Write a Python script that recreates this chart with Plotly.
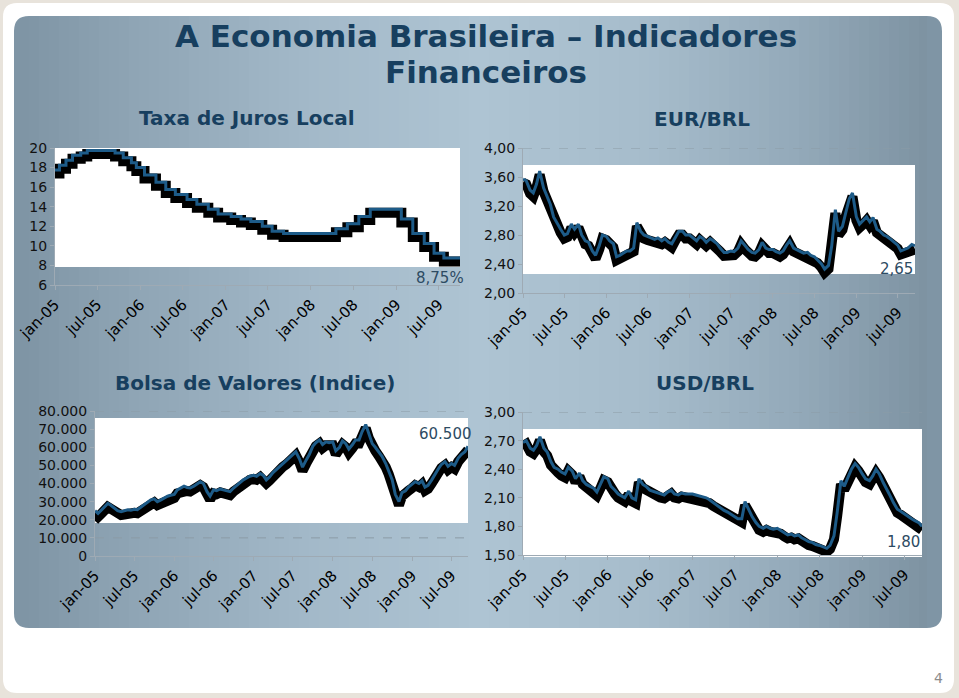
import plotly.graph_objects as go
import pandas as pd

# ---------------- data ----------------
tick_dates = ['2005-01-01', '2005-07-01', '2006-01-01', '2006-07-01', '2007-01-01',
              '2007-07-01', '2008-01-01', '2008-07-01', '2009-01-01', '2009-07-01']
tick_text = ['jan-05', 'jul-05', 'jan-06', 'jul-06', 'jan-07',
             'jul-07', 'jan-08', 'jul-08', 'jan-09', 'jul-09']

# Selic target (step series)
selic_dates = ['2005-01-01', '2005-01-20', '2005-02-17', '2005-03-17', '2005-04-21', '2005-05-19',
               '2005-09-15', '2005-10-20', '2005-11-24', '2005-12-15', '2006-01-19', '2006-03-09',
               '2006-04-20', '2006-05-31', '2006-07-20', '2006-08-31', '2006-10-19', '2006-11-30',
               '2007-01-25', '2007-03-08', '2007-04-19', '2007-06-07', '2007-07-19', '2007-09-06',
               '2008-04-17', '2008-06-05', '2008-07-24', '2008-09-11', '2009-01-22', '2009-03-12',
               '2009-04-30', '2009-06-11', '2009-07-23', '2009-09-30']
selic_values = [17.75, 18.25, 18.75, 19.25, 19.50, 19.75,
                19.50, 19.00, 18.50, 18.00, 17.25, 16.50,
                15.75, 15.25, 14.75, 14.25, 13.75, 13.25,
                13.00, 12.75, 12.50, 12.00, 11.50, 11.25,
                11.75, 12.25, 13.00, 13.75, 12.75, 11.25,
                10.25, 9.25, 8.75, 8.75]

# semi-monthly observations (1st and 15th) Jan-2005 .. Sep-2009
obs_dates = pd.date_range('2005-01-01', '2009-09-15', freq='SMS')

eur_brl = [3.57, 3.55, 3.42, 3.38, 3.50, 3.68, 3.45, 3.35, 3.22, 3.05, 2.95, 2.88,
           2.80, 2.82, 2.95, 2.88, 2.95, 2.80, 2.72, 2.70, 2.58, 2.52, 2.65, 2.80,
           2.78, 2.72, 2.68, 2.50, 2.52, 2.55, 2.58, 2.58, 2.62, 2.97, 2.85, 2.80,
           2.78, 2.77, 2.74, 2.76, 2.72, 2.75, 2.70, 2.68, 2.78, 2.85, 2.85, 2.80,
           2.80, 2.76, 2.72, 2.78, 2.75, 2.70, 2.75, 2.72, 2.68, 2.62, 2.56, 2.56,
           2.58, 2.57, 2.62, 2.72, 2.65, 2.60, 2.56, 2.55, 2.60, 2.70, 2.62, 2.60,
           2.60, 2.57, 2.55, 2.58, 2.66, 2.72, 2.62, 2.60, 2.57, 2.55, 2.56, 2.52,
           2.50, 2.46, 2.40, 2.33, 2.38, 2.65, 3.15, 2.85, 2.92, 3.10, 3.30, 3.38,
           3.05, 2.95, 3.00, 3.05, 2.98, 3.04, 2.88, 2.85, 2.80, 2.78, 2.74, 2.70,
           2.66, 2.58, 2.60, 2.62, 2.67, 2.65]

usd_brl = [2.68, 2.70, 2.62, 2.60, 2.65, 2.74, 2.62, 2.58, 2.48, 2.42, 2.40, 2.37,
           2.35, 2.42, 2.38, 2.30, 2.36, 2.28, 2.24, 2.22, 2.20, 2.16, 2.24, 2.32,
           2.30, 2.22, 2.18, 2.14, 2.12, 2.10, 2.17, 2.10, 2.08, 2.30, 2.24, 2.22,
           2.18, 2.17, 2.15, 2.14, 2.13, 2.16, 2.18, 2.14, 2.13, 2.15, 2.14, 2.14,
           2.14, 2.13, 2.12, 2.11, 2.10, 2.08, 2.05, 2.03, 2.00, 1.97, 1.95, 1.93,
           1.90, 1.88, 1.88, 2.06, 1.97, 1.90, 1.84, 1.80, 1.78, 1.80, 1.78, 1.77,
           1.78, 1.76, 1.73, 1.71, 1.72, 1.70, 1.71, 1.68, 1.66, 1.64, 1.63, 1.61,
           1.60, 1.59, 1.57, 1.60, 1.70, 1.95, 2.28, 2.22, 2.32, 2.40, 2.46, 2.42,
           2.35, 2.30, 2.28, 2.33, 2.40, 2.35, 2.26, 2.20, 2.12, 2.05, 1.98, 1.96,
           1.93, 1.91, 1.88, 1.86, 1.84, 1.80]

bovespa = [25000, 23500, 25500, 27500, 29000, 28000, 26500, 25000, 24500, 24800, 25500, 25200,
           25800, 25500, 27000, 28500, 29500, 31000, 31500, 30000, 31000, 32000, 33000, 33500,
           34000, 36500, 37500, 38500, 37800, 37500, 38500, 39500, 41000, 40000, 35500, 33000,
           36500, 36000, 37000, 36500, 36000, 35500, 37500, 39000, 40500, 42000, 43000, 44000,
           44500, 44000, 45500, 44500, 42000, 43500, 46000, 47500, 49500, 51000, 52500, 54000,
           55500, 57500, 53500, 49000, 53000, 56000, 60500, 62500, 64000, 61500, 63000, 62500,
           63000, 58000, 60000, 63500, 62000, 59000, 61500, 64000, 64000, 68500, 72500, 67000,
           62000, 60000, 57000, 55000, 51000, 47000, 42000, 34000, 30000, 35000, 36000, 38000,
           39500, 41000, 40000, 41500, 38000, 39000, 42000, 45000, 48000, 50500, 52000, 49500,
           51000, 50000, 54000, 56000, 57500, 60500]

obs_str = [d.strftime('%Y-%m-%d') for d in obs_dates]

# ---------------- styling ----------------
W, H = 959, 698
FONT = 'DejaVu Sans'
TITLE_COL = '#173f5f'
LABEL_COL = '#2d4b63'
BLUE = '#1d5b88'


def px(x):
    return x / W


def py(y):
    return 1 - y / H


def rr_path(x0, y0, x1, y1, r):
    return (f"M {px(x0 + r)},{py(y0)} L {px(x1 - r)},{py(y0)} "
            f"Q {px(x1)},{py(y0)} {px(x1)},{py(y0 + r)} L {px(x1)},{py(y1 - r)} "
            f"Q {px(x1)},{py(y1)} {px(x1 - r)},{py(y1)} L {px(x0 + r)},{py(y1)} "
            f"Q {px(x0)},{py(y1)} {px(x0)},{py(y1 - r)} L {px(x0)},{py(y0 + r)} "
            f"Q {px(x0)},{py(y0)} {px(x0 + r)},{py(y0)} Z")


def fmt_br(v, dec):
    s = f"{v:,.{dec}f}"
    return s.replace(',', 'X').replace('.', ',').replace('X', '.')


charts = [
    dict(title='Taxa de Juros Local', x=selic_dates, y=selic_values, shape='hv',
         box=(55, 460, 148, 285), yr=[6, 20], dtick=2, tfmt='d', xend='2009-09-30',
         white=(148, 267), title_xy=(247, 118),
         label=fmt_br(selic_values[-1], 2) + '%', label_xy=(466, 278)),
    dict(title='EUR/BRL', x=obs_str, y=eur_brl, shape='linear',
         box=(523, 915, 148, 293), yr=[2, 4], dtick=0.4, tfmt='.2f', xend=obs_str[-1],
         white=(165, 274), title_xy=(702, 119),
         label=fmt_br(eur_brl[-1], 2), label_xy=(915, 269)),
    dict(title='Bolsa de Valores (Indice)', x=obs_str, y=bovespa, shape='linear',
         box=(95, 468, 411, 556), yr=[0, 80000], dtick=10000, tfmt=',.0f', xend=obs_str[-1],
         white=(418, 523), title_xy=(255, 383),
         label=fmt_br(bovespa[-1], 0), label_xy=(474, 434)),
    dict(title='USD/BRL', x=obs_str, y=usd_brl, shape='linear',
         box=(523, 922, 412, 555), yr=[1.5, 3.0], dtick=0.3, tfmt='.2f', xend=obs_str[-1],
         white=(429, 557), title_xy=(705, 383),
         label=fmt_br(usd_brl[-1], 2), label_xy=(922, 542)),
]

fig = go.Figure()
layout = dict(
    width=W, height=H, margin=dict(l=0, r=0, t=0, b=0, pad=0, autoexpand=False),
    paper_bgcolor='#e8e3db', plot_bgcolor='rgba(0,0,0,0)',
    showlegend=False, separators=',.',
    font=dict(family=FONT, color='#111111'),
)
shapes = []
annotations = []

# slide background: white card and blue-grey gradient panel
shapes.append(dict(type='path', xref='paper', yref='paper', layer='below',
                   path=rr_path(3, 3, 954, 693, 14), fillcolor='#ffffff', line=dict(width=0)))
shapes.append(dict(type='path', xref='paper', yref='paper', layer='below',
                   path=rr_path(14, 16, 942, 628, 15), fillcolor='#7f95a5', line=dict(width=0)))
stops = [(14, (0x7d, 0x93, 0xa3)), (120, (0x8d, 0xa3, 0xb3)), (300, (0xa2, 0xb8, 0xc8)),
         (480, (0xae, 0xc4, 0xd3)), (650, (0xa6, 0xbc, 0xcb)), (800, (0x93, 0xa9, 0xb9)),
         (942, (0x7b, 0x90, 0x9f))]


def grad(x):
    for (xa, ca), (xb, cb) in zip(stops[:-1], stops[1:]):
        if xa <= x <= xb:
            t = (x - xa) / (xb - xa)
            return 'rgb(%d,%d,%d)' % tuple(round(a + (b - a) * t) for a, b in zip(ca, cb))
    return 'rgb(127,149,165)'


sx = 29
while sx < 927:
    shapes.append(dict(type='rect', xref='paper', yref='paper', layer='below',
                       x0=px(sx), x1=px(min(sx + 11, 927)), y0=py(628), y1=py(16),
                       fillcolor=grad(sx + 5), line=dict(width=0)))
    sx += 10

for i, c in enumerate(charts, start=1):
    xid = 'x' if i == 1 else f'x{i}'
    yid = 'y' if i == 1 else f'y{i}'
    xk = 'xaxis' if i == 1 else f'xaxis{i}'
    yk = 'yaxis' if i == 1 else f'yaxis{i}'
    l, r, t, b = c['box']
    r0, r1 = c['yr']
    span = r1 - r0
    layout[xk] = dict(type='date', domain=[px(l), px(r)], anchor=yid,
                      range=[c['x'][0], c['xend']], tickmode='array',
                      tickvals=tick_dates, ticktext=tick_text, tickangle=-45,
                      tickfont=dict(family=FONT, size=15, color='#000000'),
                      showgrid=False, showline=True, linecolor='#9eaab4', linewidth=1,
                      ticks='outside', ticklen=4, tickcolor='#9eaab4', fixedrange=True,
                      automargin=False)
    layout[yk] = dict(domain=[py(b), py(t)], anchor=xid, range=[r0, r1],
                      tick0=r0, dtick=c['dtick'], tickformat=c['tfmt'],
                      tickfont=dict(family=FONT, size=14, color='#111111'),
                      showgrid=False, zeroline=False, showline=True, linecolor='#9eaab4',
                      linewidth=1, ticks='outside', ticklen=4, tickcolor='#9eaab4',
                      fixedrange=True, automargin=False)
    # dashed grid lines (drawn under the white panel)
    k = 1
    while r0 + k * c['dtick'] <= r1 + 1e-9:
        gv = r0 + k * c['dtick']
        shapes.append(dict(type='line', xref=f'{xid} domain', yref=yid, layer='below',
                           x0=0, x1=1, y0=gv, y1=gv,
                           line=dict(color='#8c9ba6', width=1, dash='dash')))
        k += 1
    wt, wb = c['white']
    shapes.append(dict(type='rect', xref=f'{xid} domain', yref=f'{yid} domain', layer='below',
                       x0=0, x1=1, y0=(b - wb) / (b - t), y1=(b - wt) / (b - t),
                       fillcolor='#ffffff', line=dict(width=0)))
    # overlay axes: shadow (shifted a few pixels down) and main blue line
    dy = 3.5 * span / (b - t)
    layout[f'yaxis{i + 4}'] = dict(overlaying=yid, anchor=xid, range=[r0 + dy, r1 + dy],
                                   visible=False, fixedrange=True, automargin=False)
    layout[f'yaxis{i + 8}'] = dict(overlaying=yid, anchor=xid, range=[r0, r1],
                                   visible=False, fixedrange=True, automargin=False)
    fig.add_trace(go.Scatter(x=c['x'], y=c['y'], mode='lines', xaxis=xid, yaxis=f'y{i + 4}',
                             line=dict(color='#000000', width=10, shape=c['shape']),
                             hoverinfo='skip'))
    fig.add_trace(go.Scatter(x=c['x'], y=c['y'], mode='lines', xaxis=xid, yaxis=f'y{i + 8}',
                             line=dict(color=BLUE, width=3, shape=c['shape'])))
    tx, ty = c['title_xy']
    annotations.append(dict(xref='paper', yref='paper', x=px(tx), y=py(ty), text=f"<b>{c['title']}</b>",
                            showarrow=False, xanchor='center', yanchor='middle',
                            font=dict(family=FONT, size=20, color=TITLE_COL)))
    lx, ly = c['label_xy']
    annotations.append(dict(xref='paper', yref='paper', x=px(lx), y=py(ly), text=c['label'],
                            showarrow=False, xanchor='right', yanchor='middle',
                            font=dict(family=FONT, size=15, color=LABEL_COL)))

annotations.append(dict(xref='paper', yref='paper', x=px(486), y=py(36),
                        text='<b>A Economia Brasileira – Indicadores</b>', showarrow=False,
                        xanchor='center', yanchor='middle',
                        font=dict(family=FONT, size=31, color=TITLE_COL)))
annotations.append(dict(xref='paper', yref='paper', x=px(486), y=py(72),
                        text='<b>Financeiros</b>', showarrow=False,
                        xanchor='center', yanchor='middle',
                        font=dict(family=FONT, size=31, color=TITLE_COL)))
annotations.append(dict(xref='paper', yref='paper', x=px(938), y=py(678), text='4',
                        showarrow=False, xanchor='center', yanchor='middle',
                        font=dict(family=FONT, size=14, color='#8c8c8c')))

layout['shapes'] = shapes
layout['annotations'] = annotations
fig.update_layout(**layout)

fig.write_html('out.html', config=dict(displayModeBar=False, staticPlot=True),
               post_script="document.body.style.margin='0';document.body.style.padding='0';")
